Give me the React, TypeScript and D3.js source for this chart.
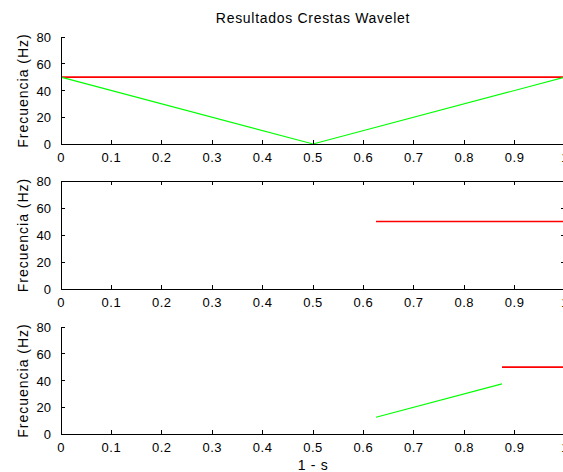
import React from "react";
import * as d3 from "d3";

const title = "Resultados Crestas Wavelet";
const yLabel = "Frecuencia (Hz)";
const xLabel = "1 - s";
const xTicks = [0, 0.1, 0.2, 0.3, 0.4, 0.5, 0.6, 0.7, 0.8, 0.9, 1];
const yTicks = [0, 20, 40, 60, 80];

const topRedX = [0, 1];
const topRedY = [50, 50];
const topGreenX = [0, 0.5, 1];
const topGreenY = [50, 0, 50];
const midRedX = [0.625, 1];
const midRedY = [50, 50];
const botGreenX = [0.625, 0.875];
const botGreenY = [12.5, 37.5];
const botRedX = [0.875, 1];
const botRedY = [50, 50];

type Series = { xs: number[]; ys: number[]; color: string };

const panels: { top: number; bottom: number; box: boolean; series: Series[] }[] = [
  {
    top: 37,
    bottom: 144,
    box: false,
    series: [
      { xs: topRedX, ys: topRedY, color: "#ff0000" },
      { xs: topGreenX, ys: topGreenY, color: "#00ff00" },
    ],
  },
  {
    top: 181,
    bottom: 289,
    box: true,
    series: [{ xs: midRedX, ys: midRedY, color: "#ff0000" }],
  },
  {
    top: 327,
    bottom: 434,
    box: false,
    series: [
      { xs: botGreenX, ys: botGreenY, color: "#00ff00" },
      { xs: botRedX, ys: botRedY, color: "#ff0000" },
    ],
  },
];

const FONT = "'Liberation Sans', Arial, sans-serif";
const FS = 13;

export default function App() {
  const x = d3.scaleLinear().domain([0, 1]).range([61, 565]);
  const tickLen = 4;
  return (
    <svg
      width={563}
      height={472}
      style={{ position: "absolute", left: 0, top: 0, background: "#fff" }}
      fontFamily={FONT}
    >
      <rect x={0} y={0} width={563} height={472} fill="#fff" />
      <text x={313} y={23} textAnchor="middle" fontSize={14} letterSpacing={0.7} fill="#000">
        {title}
      </text>
      {panels.map((p, i) => {
        const y = d3.scaleLinear().domain([0, 80]).range([p.bottom, p.top]);
        const line = d3
          .line<[number, number]>()
          .x((d) => x(d[0]))
          .y((d) => y(d[1]));
        const x0 = x(0);
        const x1 = x(1);
        return (
          <g key={i}>
            {p.series.map((s, j) => (
              <path
                key={j}
                d={line(s.xs.map((v, k) => [v, s.ys[k]] as [number, number])) || ""}
                fill="none"
                stroke={s.color}
                strokeWidth={s.color === "#ff0000" ? 1.6 : 1.2}
              />
            ))}
            <g shapeRendering="crispEdges" stroke="#000" strokeWidth={1}>
              <line x1={x0} x2={x0} y1={p.top} y2={p.bottom} />
              <line x1={x0} x2={x1} y1={p.bottom} y2={p.bottom} />
              {p.box && <line x1={x0} x2={x1} y1={p.top} y2={p.top} />}
              {p.box && <line x1={x1} x2={x1} y1={p.top} y2={p.bottom} />}
              {xTicks.map((t) => (
                <line key={"xb" + t} x1={x(t)} x2={x(t)} y1={p.bottom} y2={p.bottom - tickLen} />
              ))}
              {p.box &&
                xTicks.map((t) => (
                  <line key={"xt" + t} x1={x(t)} x2={x(t)} y1={p.top} y2={p.top + tickLen} />
                ))}
              {yTicks.map((t) => (
                <line key={"yl" + t} x1={x0} x2={x0 + tickLen} y1={y(t)} y2={y(t)} />
              ))}
              {p.box &&
                yTicks.map((t) => (
                  <line key={"yr" + t} x1={x1} x2={x1 - tickLen} y1={y(t)} y2={y(t)} />
                ))}
            </g>
            {xTicks.map((t) => (
              <text
                key={"xl" + t}
                x={x(t)}
                y={p.bottom + 18}
                textAnchor="middle"
                fontSize={FS}
                letterSpacing={0.5}
                fill="#000"
              >
                {d3.format("~g")(t)}
              </text>
            ))}
            {yTicks.map((t) => (
              <text
                key={"ylb" + t}
                x={x0 - 10}
                y={y(t) + 5}
                textAnchor="end"
                fontSize={FS}
                fill="#000"
              >
                {t}
              </text>
            ))}
            <text
              transform={`translate(28,${(p.top + p.bottom) / 2}) rotate(-90)`}
              textAnchor="middle"
              fontSize={14}
              letterSpacing={1}
              fill="#000"
            >
              {yLabel}
            </text>
          </g>
        );
      })}
      <text x={313} y={470} textAnchor="middle" fontSize={14} letterSpacing={0.7} fill="#000">
        {xLabel}
      </text>
    </svg>
  );
}
